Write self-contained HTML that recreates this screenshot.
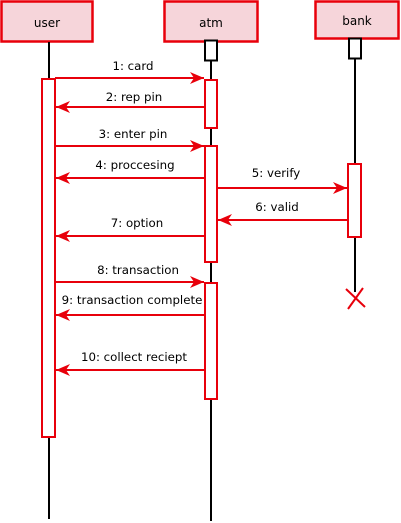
<!DOCTYPE html>
<html><head><meta charset="utf-8"><style>
html,body{margin:0;padding:0;background:#fff;width:401px;height:523px;overflow:hidden}
</style></head><body>
<svg width="401" height="523" viewBox="0 0 401 523" xmlns="http://www.w3.org/2000/svg" font-family="DejaVu Sans, Liberation Sans, sans-serif" font-size="11.8" fill="#000">
<defs>
<marker id="ah" viewBox="0 0 14 12" refX="14" refY="6" markerWidth="14" markerHeight="12" markerUnits="userSpaceOnUse" orient="auto">
<path d="M0,0 L14,6 L0,12 L4,6 Z" fill="#e8000b"/>
</marker>
</defs>
<rect x="1.5" y="1.5" width="91" height="40" fill="#f6d5da" stroke="#e8000b" stroke-width="2.5"/>
<text x="47" y="27" text-anchor="middle" font-size="12">user</text>
<rect x="164.5" y="1.5" width="93" height="40" fill="#f6d5da" stroke="#e8000b" stroke-width="2.5"/>
<text x="211" y="27" text-anchor="middle" font-size="12">atm</text>
<rect x="315.5" y="1.5" width="83" height="37" fill="#f6d5da" stroke="#e8000b" stroke-width="2.5"/>
<text x="357" y="25" text-anchor="middle" font-size="12">bank</text>
<g stroke="#000" stroke-width="2">
<line x1="49" y1="42" x2="49" y2="519"/>
<line x1="211" y1="42" x2="211" y2="521"/>
<line x1="355" y1="38" x2="355" y2="292"/>
</g>
<rect x="205" y="40.5" width="12" height="20" fill="#fff" stroke="#000" stroke-width="2"/>
<rect x="349" y="38.5" width="12" height="20" fill="#fff" stroke="#000" stroke-width="2"/>
<g fill="#fff" stroke="#e8000b" stroke-width="2">
<rect x="42" y="79" width="13" height="358"/>
<rect x="205" y="80" width="12" height="48"/>
<rect x="205" y="146" width="12" height="116"/>
<rect x="205" y="283" width="12" height="116"/>
<rect x="348" y="164" width="13" height="73"/>
</g>
<g stroke="#e8000b" stroke-width="2" marker-end="url(#ah)">
<line x1="55" y1="78" x2="204" y2="78"/>
<line x1="205" y1="107" x2="56" y2="107"/>
<line x1="55" y1="146" x2="204" y2="146"/>
<line x1="205" y1="178" x2="56" y2="178"/>
<line x1="217" y1="188" x2="347" y2="188"/>
<line x1="348" y1="220" x2="218" y2="220"/>
<line x1="205" y1="236" x2="56" y2="236"/>
<line x1="55" y1="282" x2="204" y2="282"/>
<line x1="205" y1="315" x2="56" y2="315"/>
<line x1="205" y1="370" x2="56" y2="370"/>
</g>
<g font-size="11.8" text-anchor="middle">
<text x="133" y="70">1: card</text>
<text x="134" y="101">2: rep pin</text>
<text x="133" y="138">3: enter pin</text>
<text x="135" y="169">4: proccesing</text>
<text x="276" y="177">5: verify</text>
<text x="277" y="211">6: valid</text>
<text x="137" y="227">7: option</text>
<text x="138" y="274">8: transaction</text>
<text x="132" y="304">9: transaction complete</text>
<text x="134" y="361">10: collect reciept</text>
</g>
<g stroke="#e8000b" stroke-width="2">
<line x1="346" y1="289" x2="365" y2="307"/>
<line x1="363" y1="288" x2="348" y2="309"/>
</g>
</svg>
</body></html>
